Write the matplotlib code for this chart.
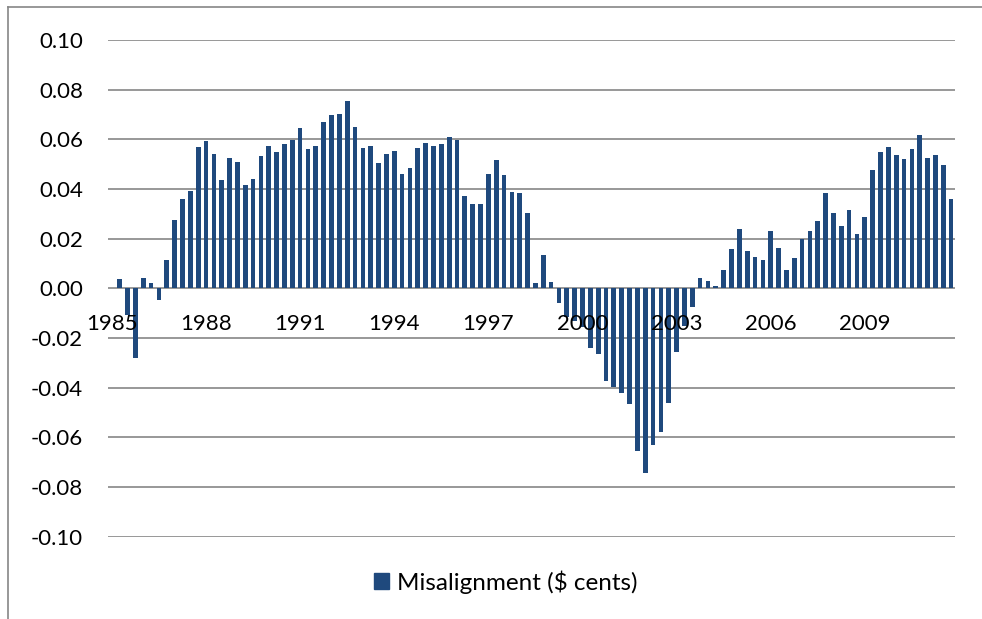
import numpy as np
import matplotlib
matplotlib.use("Agg")
import matplotlib.pyplot as plt
from matplotlib.patches import Patch
from matplotlib.lines import Line2D

# ---- data ----
years = list(range(1985, 2012))
categories = [f"{y}Q{q}" for y in years for q in range(1, 5)]
tick_labels = ["1985", "1988", "1991", "1994", "1997", "2000", "2003", "2006", "2009"]
series_name = "Misalignment ($ cents)"
misalignment = [
    np.nan,
    0.0036, -0.0107, -0.0282, 0.0043, 0.0021, -0.0047, 0.0114, 0.0277, 0.0358, 0.0393,
    0.0570, 0.0593, 0.0541, 0.0438, 0.0526, 0.0509, 0.0417, 0.0440, 0.0534, 0.0572,
    0.0548, 0.0583, 0.0599, 0.0644, 0.0561, 0.0574, 0.0668, 0.0699, 0.0702, 0.0756,
    0.0650, 0.0566, 0.0574, 0.0503, 0.0539, 0.0552, 0.0462, 0.0485, 0.0564, 0.0585,
    0.0574, 0.0583, 0.0608, 0.0599, 0.0370, 0.0338, 0.0341, 0.0459, 0.0515, 0.0455,
    0.0387, 0.0384, 0.0303, 0.0020, 0.0134, 0.0024, -0.0060, -0.0115, -0.0130, -0.0155,
    -0.0242, -0.0266, -0.0372, -0.0397, -0.0423, -0.0466, -0.0655, -0.0744, -0.0632, -0.0579,
    -0.0463, -0.0256, -0.0150, -0.0075, 0.0043, 0.0028, 0.0008, 0.0074, 0.0157, 0.0238,
    0.0150, 0.0128, 0.0114, 0.0231, 0.0164, 0.0074, 0.0122, 0.0200, 0.0231, 0.0270,
    0.0383, 0.0302, 0.0250, 0.0315, 0.0217, 0.0286, 0.0475, 0.0549, 0.0568, 0.0537,
    0.0521, 0.0560, 0.0616, 0.0526, 0.0536, 0.0495, 0.0360,
]
y_ticks = [-0.10, -0.08, -0.06, -0.04, -0.02, 0.00, 0.02, 0.04, 0.06, 0.08, 0.10]

# ---- style ----
plt.rcParams['font.family'] = ['Lato', 'DejaVu Sans']
BAR = '#1f497d'
GRID = '#868686'
FS = 16

W, H = 982, 619
fig = plt.figure(figsize=(W / 100, H / 100), dpi=100)
ax = fig.add_axes([108 / W, 1 - 536.6 / H, (955 - 108) / W, (536.6 - 40) / H])

x = np.arange(len(categories))
ax.bar(x, misalignment, width=0.6, color=BAR, zorder=2)

ax.set_xlim(-0.5, len(categories) - 0.5)
ax.set_ylim(-0.10, 0.10)
ax.spines['bottom'].set_position(('data', 0))
for s in ['top', 'right', 'left', 'bottom']:
    ax.spines[s].set_visible(False)

ax.set_yticks(y_ticks)
ax.set_yticklabels([f"{v:.2f}" for v in y_ticks])
ax.yaxis.grid(True, color=GRID, linewidth=1.2)
ax.set_axisbelow(True)

tick_pos = [categories.index(f"{t}Q1") for t in tick_labels]
ax.set_xticks(tick_pos)
ax.set_xticklabels(tick_labels)
ax.tick_params(axis='x', length=0, pad=18.5, labelsize=FS)
ax.tick_params(axis='y', length=0, pad=18, labelsize=FS)
ax.xaxis.set_zorder(5)  # category labels drawn over the bars

# outer chart border (top and left visible)
fig.add_artist(Line2D([7.5 / W, 7.5 / W], [0, 1 - 6.5 / H], color=GRID, linewidth=1.2,
                      transform=fig.transFigure))
fig.add_artist(Line2D([7.5 / W, 1], [1 - 6.5 / H, 1 - 6.5 / H], color=GRID, linewidth=1.2,
                      transform=fig.transFigure))

fig.legend(handles=[Patch(facecolor=BAR, edgecolor=BAR, label=series_name)],
           loc='center', bbox_to_anchor=(506 / W, 1 - 582 / H), frameon=False,
           fontsize=17.5, handlelength=0.6, handleheight=0.6, handletextpad=0.35)

fig.savefig('out.png', dpi=100)
